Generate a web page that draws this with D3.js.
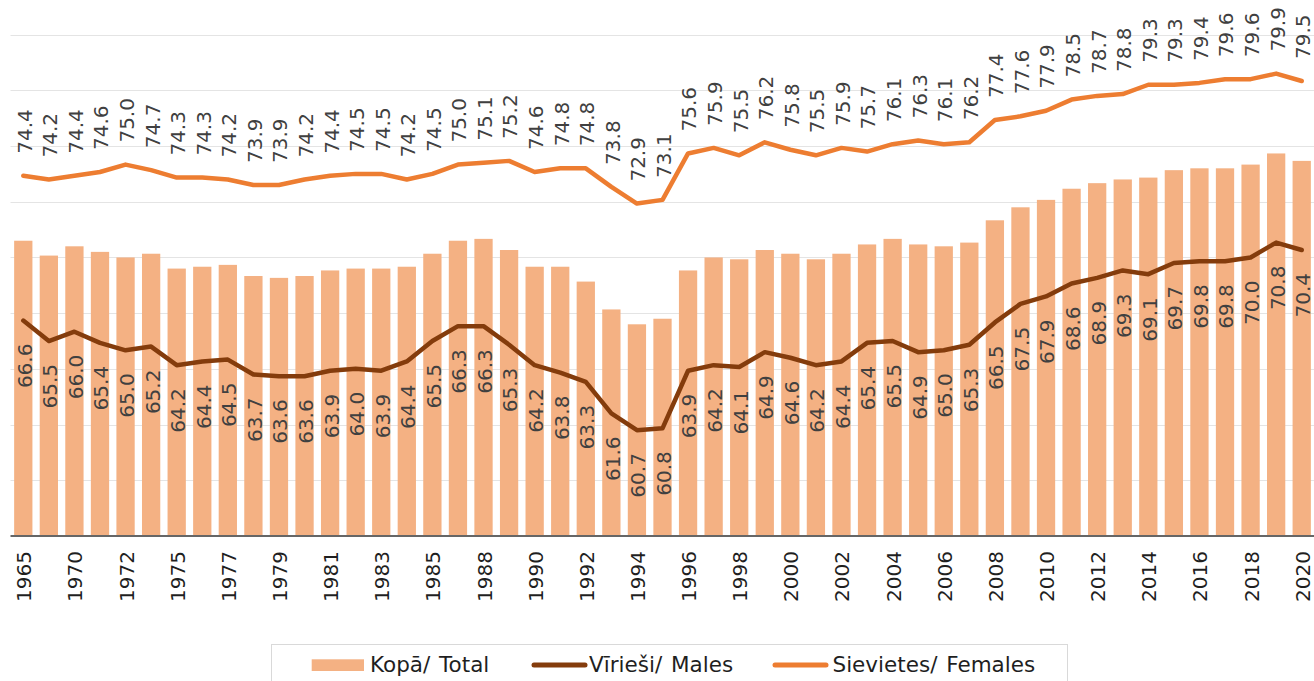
<!DOCTYPE html>
<html>
<head>
<meta charset="utf-8">
<script src="https://cdn.jsdelivr.net/npm/d3@7"></script>
<style>
  html, body { margin: 0; padding: 0; background: #ffffff; }
  svg { display: block; }
  text { font-family: "DejaVu Sans", Verdana, sans-serif; }
</style>
</head>
<body>
<script>
// Life expectancy at birth, years
const categories = [
  "1965", "1966", "1970", "1971", "1972", "1973", "1975", "1976", "1977", "1978",
  "1979", "1980", "1981", "1982", "1983", "1984", "1985", "1987", "1988", "1989",
  "1990", "1991", "1992", "1993", "1994", "1995", "1996", "1997", "1998", "1999",
  "2000", "2001", "2002", "2003", "2004", "2005", "2006", "2007", "2008", "2009",
  "2010", "2011", "2012", "2013", "2014", "2015", "2016", "2017", "2018", "2019",
  "2020"
];

const totalValues = [
  70.9, 70.1, 70.6, 70.3, 70.0, 70.2, 69.4, 69.5, 69.6, 69.0,
  68.9, 69.0, 69.3, 69.4, 69.4, 69.5, 70.2, 70.9, 71.0, 70.4,
  69.5, 69.5, 68.7, 67.2, 66.4, 66.7, 69.3, 70.0, 69.9, 70.4,
  70.2, 69.9, 70.2, 70.7, 71.0, 70.7, 70.6, 70.8, 72.0, 72.7,
  73.1, 73.7, 74.0, 74.2, 74.3, 74.7, 74.8, 74.8, 75.0, 75.6,
  75.2
];

const maleValues = [
  66.6, 65.5, 66.0, 65.4, 65.0, 65.2, 64.2, 64.4, 64.5, 63.7,
  63.6, 63.6, 63.9, 64.0, 63.9, 64.4, 65.5, 66.3, 66.3, 65.3,
  64.2, 63.8, 63.3, 61.6, 60.7, 60.8, 63.9, 64.2, 64.1, 64.9,
  64.6, 64.2, 64.4, 65.4, 65.5, 64.9, 65.0, 65.3, 66.5, 67.5,
  67.9, 68.6, 68.9, 69.3, 69.1, 69.7, 69.8, 69.8, 70.0, 70.8,
  70.4
];

const femaleValues = [
  74.4, 74.2, 74.4, 74.6, 75.0, 74.7, 74.3, 74.3, 74.2, 73.9,
  73.9, 74.2, 74.4, 74.5, 74.5, 74.2, 74.5, 75.0, 75.1, 75.2,
  74.6, 74.8, 74.8, 73.8, 72.9, 73.1, 75.6, 75.9, 75.5, 76.2,
  75.8, 75.5, 75.9, 75.7, 76.1, 76.3, 76.1, 76.2, 77.4, 77.6,
  77.9, 78.5, 78.7, 78.8, 79.3, 79.3, 79.4, 79.6, 79.6, 79.9,
  79.5
];

// Horizontal gridline positions on the (hidden) value axis
const gridValues = [58, 61, 64, 67, 70, 73, 76, 79, 82];
const yDomain = [55, 82];

const seriesNames = ["Kopā/ Total", "Vīrieši/ Males", "Sievietes/ Females"];

const colors = {
  total: "#F4B183",
  male: "#843C0C",
  female: "#ED7D31",
  label: "#404040",
  axisText: "#1f1f1f",
  grid: "#e4e4e4",
  axis: "#666666"
};

const W = 1314, H = 681;
const plot = { left: 10.5, right: 1314.5, top: 34.6, bottom: 536 };

const svg = d3.select("body").append("svg")
  .attr("width", W).attr("height", H);

const x = d3.scaleBand()
  .domain(categories)
  .range([plot.left, plot.right])
  .paddingInner(0.285)
  .paddingOuter(0.1425);

const y = d3.scaleLinear()
  .domain(yDomain)
  .range([plot.bottom, plot.top]);

const cx = d => x(d) + x.bandwidth() / 2;

// gridlines
svg.append("g").attr("class", "grid")
  .selectAll("line")
  .data(gridValues)
  .join("line")
  .attr("x1", plot.left)
  .attr("x2", W)
  .attr("y1", d => Math.round(y(d)) + 0.5)
  .attr("y2", d => Math.round(y(d)) + 0.5)
  .attr("stroke", colors.grid)
  .attr("stroke-width", 1);

// total bars
svg.append("g").attr("class", "bars")
  .selectAll("rect")
  .data(categories.map((c, i) => ({ c, v: totalValues[i] })))
  .join("rect")
  .attr("x", d => x(d.c))
  .attr("width", x.bandwidth())
  .attr("y", d => y(d.v))
  .attr("height", d => y(yDomain[0]) - y(d.v))
  .attr("fill", colors.total);

// category axis, every second year labelled
const xAxis = d3.axisBottom(x)
  .tickValues(categories.filter((d, i) => i % 2 === 0))
  .tickSize(0)
  .tickSizeOuter(0);

const gx = svg.append("g")
  .attr("transform", `translate(0,${plot.bottom})`)
  .call(xAxis);
gx.select(".domain").remove();
gx.selectAll(".tick text")
  .attr("transform", "rotate(-90)")
  .attr("text-anchor", "end")
  .attr("x", -15)
  .attr("y", 0)
  .attr("dy", "0.40em")
  .attr("fill", colors.axisText)
  .style("font-family", "'DejaVu Sans', Verdana, sans-serif")
  .style("font-size", "20px");

svg.append("line")
  .attr("x1", plot.left).attr("x2", W)
  .attr("y1", plot.bottom).attr("y2", plot.bottom)
  .attr("stroke", colors.axis)
  .attr("stroke-width", 2);

// lines
const lineGen = vals => d3.line()
  .x((d, i) => cx(categories[i]))
  .y(d => y(d))(vals);

svg.append("path")
  .attr("d", lineGen(maleValues))
  .attr("fill", "none")
  .attr("stroke", colors.male)
  .attr("stroke-width", 4.5)
  .attr("stroke-linejoin", "round")
  .attr("stroke-linecap", "round");

svg.append("path")
  .attr("d", lineGen(femaleValues))
  .attr("fill", "none")
  .attr("stroke", colors.female)
  .attr("stroke-width", 4.5)
  .attr("stroke-linejoin", "round")
  .attr("stroke-linecap", "round");

// value labels, rotated
svg.append("g").attr("class", "female-labels")
  .selectAll("text")
  .data(categories.map((c, i) => ({ c, v: femaleValues[i] })))
  .join("text")
  .attr("transform", d => `translate(${cx(d.c)},${y(d.v) - 22}) rotate(-90)`)
  .attr("text-anchor", "start")
  .attr("dy", "0.42em")
  .attr("fill", colors.label)
  .style("font-size", "20px")
  .text(d => d.v.toFixed(1));

svg.append("g").attr("class", "male-labels")
  .selectAll("text")
  .data(categories.map((c, i) => ({ c, v: maleValues[i] })))
  .join("text")
  .attr("transform", d => `translate(${cx(d.c)},${y(d.v) + 23}) rotate(-90)`)
  .attr("text-anchor", "end")
  .attr("dy", "0.42em")
  .attr("fill", colors.label)
  .style("font-size", "20px")
  .text(d => d.v.toFixed(1));

// legend
const legend = svg.append("g").attr("class", "legend");
legend.append("rect")
  .attr("x", 271.5).attr("y", 644.5)
  .attr("width", 796).attr("height", 60)
  .attr("fill", "#ffffff")
  .attr("stroke", "#d9d9d9")
  .attr("stroke-width", 1);

const legendItems = [
  { name: seriesNames[0], type: "bar", color: colors.total, sx: 311.7, tx: 370 },
  { name: seriesNames[1], type: "line", color: colors.male, sx: 532, tx: 589 },
  { name: seriesNames[2], type: "line", color: colors.female, sx: 773, tx: 832.5 }
];

legendItems.forEach(it => {
  if (it.type === "bar") {
    legend.append("rect")
      .attr("x", it.sx).attr("y", 659.3)
      .attr("width", 52.3).attr("height", 11.7)
      .attr("fill", it.color);
  } else {
    legend.append("line")
      .attr("x1", it.sx + 2).attr("x2", it.sx + 53)
      .attr("y1", 665).attr("y2", 665)
      .attr("stroke", it.color)
      .attr("stroke-width", 5)
      .attr("stroke-linecap", "round");
  }
  legend.append("text")
    .attr("x", it.tx).attr("y", 672)
    .attr("fill", colors.axisText)
    .style("font-size", "21.5px")
    .style("word-spacing", "2px")
    .text(it.name);
});
</script>
</body>
</html>
